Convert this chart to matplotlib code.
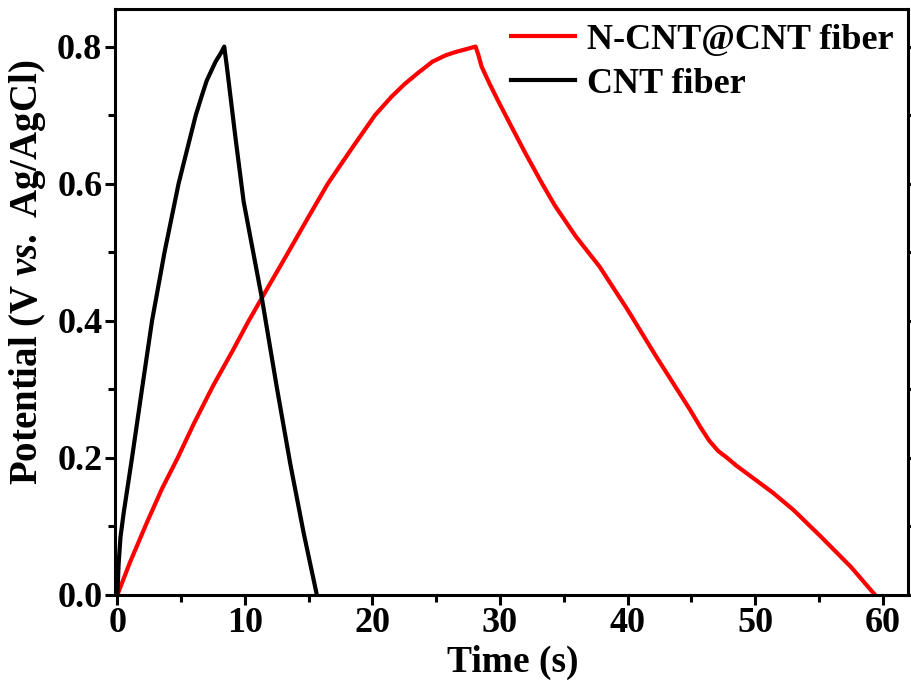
import matplotlib
matplotlib.use("Agg")
import matplotlib.pyplot as plt
from matplotlib.ticker import MultipleLocator

# CNT fiber (black)
cnt_t = [0.0, 0.1, 0.25, 0.5, 1.15, 1.93, 2.72, 3.7, 4.8, 5.5, 6.15, 6.6, 7.0, 7.4, 7.7, 8.1, 8.38,
         8.45, 8.59, 9.24, 9.9, 11.33, 12.5, 13.55, 14.6, 15.64]
cnt_v = [0.0, 0.045, 0.085, 0.12, 0.2, 0.3, 0.4, 0.5, 0.6, 0.652, 0.7, 0.727, 0.75, 0.766, 0.778, 0.79, 0.8,
         0.79, 0.77, 0.67, 0.574, 0.433, 0.303, 0.192, 0.091, 0.0]

# N-CNT@CNT fiber (red)
ncnt_t = [0.0, 1.0, 2.3, 3.5, 4.73, 6.0, 7.5, 9.0, 10.3, 12.0, 13.4, 15.0, 16.5, 18.4, 20.2, 21.5, 22.5, 23.6, 24.7,
          25.7, 26.5, 27.3, 28.08,
          28.3, 28.55, 29.2, 29.87, 30.9, 31.97, 33.3, 34.3, 35.9, 37.8, 40.0, 42.2, 44.9, 45.7, 46.4, 47.1, 47.8,
          48.5, 49.3, 51.4, 53.0, 55.1, 57.5, 59.4]
ncnt_v = [0.0, 0.048, 0.105, 0.155, 0.2, 0.25, 0.305, 0.355, 0.4, 0.455, 0.5, 0.552, 0.6, 0.652, 0.7, 0.727, 0.745,
          0.762, 0.778, 0.787, 0.792, 0.796, 0.8,
          0.788, 0.771, 0.745, 0.72, 0.683, 0.645, 0.6, 0.568, 0.524, 0.479, 0.416, 0.349, 0.27, 0.245, 0.225, 0.21,
          0.2, 0.189, 0.178, 0.149, 0.124, 0.086, 0.041, 0.0]

xticks = [0, 10, 20, 30, 40, 50, 60]
yticks = [0.0, 0.2, 0.4, 0.6, 0.8]

plt.rcParams['font.family'] = ['Liberation Serif', 'DejaVu Serif']
plt.rcParams['font.weight'] = 'bold'
plt.rcParams['mathtext.fontset'] = 'custom'
plt.rcParams['mathtext.it'] = 'Liberation Serif:italic:bold'
plt.rcParams['mathtext.rm'] = 'Liberation Serif:bold'

fig = plt.figure(figsize=(9.11, 6.82), dpi=100)
ax = fig.add_axes([0.126, 0.1276, 0.871, 0.8594])

ax.plot(ncnt_t, ncnt_v, color='#ff0000', lw=3.0, label='N-CNT@CNT fiber', solid_joinstyle='round')
ax.plot(cnt_t, cnt_v, color='black', lw=3.0, label='CNT fiber', solid_joinstyle='round')

ax.set_xlim(-0.2, 62)
ax.set_ylim(0, 0.855)
ax.set_xticks(xticks)
ax.set_yticks(yticks)
ax.set_yticklabels([f'{v:.1f}' for v in yticks])
ax.xaxis.set_minor_locator(MultipleLocator(5))
ax.yaxis.set_minor_locator(MultipleLocator(0.1))

for s in ax.spines.values():
    s.set_linewidth(2.2)

ax.tick_params(axis='both', which='major', direction='out', length=7, width=2.2,
               labelsize=26, pad=2)
ax.tick_params(axis='both', which='minor', direction='out', length=5, width=2.2)
ax.tick_params(axis='y', which='both', right=True)

for lab in ax.get_xticklabels() + ax.get_yticklabels():
    lab.set_fontweight('bold')

ax.set_xlabel('Time (s)', fontsize=27, fontweight='bold')
ax.xaxis.set_label_coords(0.502, -0.085)
ax.set_ylabel(r'Potential (V $\it{vs.}$ Ag/AgCl)', fontsize=28, fontweight='bold')
ax.yaxis.set_label_coords(-0.084, 0.55)

leg = ax.legend(loc='upper right', frameon=False, handlelength=1.75,
                handletextpad=0.35, labelspacing=0.3, borderaxespad=0.15,
                borderpad=0.25, prop={'weight': 'bold', 'size': 26})

fig.savefig('out.png', dpi=100)
